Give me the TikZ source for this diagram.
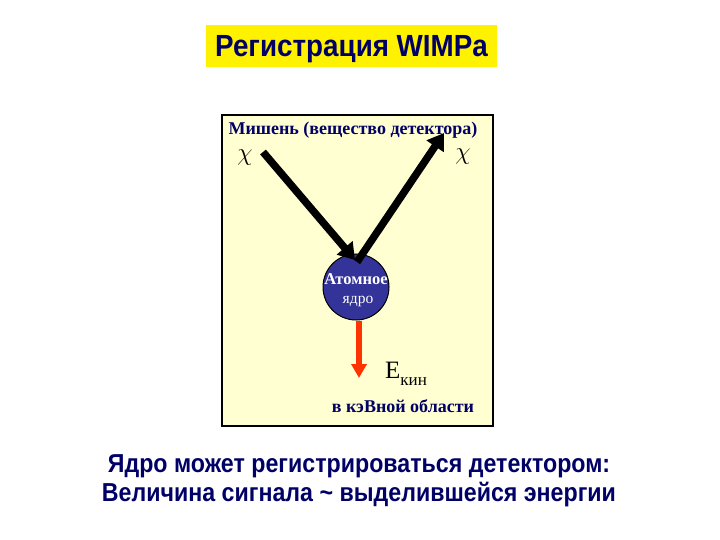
\documentclass[tikz,border=0pt]{standalone}
\usepackage{fontspec}
\setmainfont{Liberation Serif}
\newfontfamily\arialb{Liberation Sans}[BoldFont={Liberation Sans Bold}]
\usetikzlibrary{arrows.meta}
\definecolor{navy}{HTML}{000066}
\definecolor{nucblue}{HTML}{333399}
\definecolor{panelbg}{HTML}{FFFFD2}
\definecolor{redarrow}{HTML}{FF3300}
\newcommand{\vstretch}[2]{\scalebox{1}[#1]{#2}}
\tikzset{
  sanshead/.style={font=\arialb\bfseries\fontsize{27.8pt}{30pt}\selectfont, text=navy},
  bottomtxt/.style={font=\arialb\bfseries\fontsize{23.2pt}{26pt}\selectfont, text=navy, inner sep=0pt},
  blackarrow/.style={line width=7.5pt, -{Triangle[length=16pt,width=20pt]}},
  chi/.style={font=\fontsize{26pt}{28pt}\selectfont, inner sep=0pt},
}
\begin{document}
\begin{tikzpicture}[x=1pt,y=-1pt]
\useasboundingbox[fill=white] (0,0) rectangle (720,540);
% title
\node[fill=yellow, minimum width=291pt, minimum height=42pt, inner sep=0pt] (titlebox) at (351.5,46.5) {};
\node[sanshead, anchor=base, inner sep=0pt] (title) at (351.5,57) {\vstretch{1.1}{Регистрация WIMPa}};
% panel
\node[draw=black, line width=1.2pt, fill=panelbg, minimum width=271pt, minimum height=311pt, inner sep=0pt] (panel) at (357.5,270.5) {};
\node[font=\bfseries\fontsize{18pt}{20pt}\selectfont, text=navy, anchor=base, inner sep=0pt] (target) at (353,135) {Мишень (вещество детектора)};
\node[chi] (chiL) at (245,158) {$\chi$};
\node[chi] (chiR) at (463,157) {$\chi$};
% nucleus
\node[circle, draw=black, line width=1pt, fill=nucblue, minimum width=65pt, minimum height=66pt, inner sep=0pt] (nuc) at (356,287) {};
\node[text=white, font=\bfseries\fontsize{16.5pt}{18pt}\selectfont, anchor=base, inner sep=0pt] (nucA) at (356,284) {Атомное};
\node[text=white, font=\fontsize{15.5pt}{17pt}\selectfont, anchor=base, inner sep=0pt] (nucB) at (358,303) {ядро};
% red arrow
\coordinate (redEnd) at (359,378);
\draw[redarrow, line width=6.5pt, -{Triangle[length=14pt,width=15pt]}] (nuc.south -| redEnd) -- (redEnd);
% black arrows
\coordinate (inStart) at (263,152);
\coordinate (hit) at (355,260);
\coordinate (outStart) at (357,262);
\coordinate (outEnd) at (444,133);
\draw[blackarrow] (inStart) -- (hit);
\draw[blackarrow] (outStart) -- (outEnd);
% E kin
\node[font=\fontsize{25pt}{27pt}\selectfont, anchor=base west, inner sep=0pt] (E) at (385,378) {E\raisebox{-7pt}{\fontsize{17pt}{19pt}\selectfont кин}};
\node[font=\bfseries\fontsize{18pt}{20pt}\selectfont, text=navy, anchor=base, inner sep=0pt] (kev) at (403,412) {в кэВной области};
% bottom text
\node[bottomtxt, anchor=base] (line1) at (359,472) {\vstretch{1.12}{Ядро может регистрироваться детектором:}};
\node[bottomtxt, anchor=base] (line2) at (359,501) {\vstretch{1.12}{Величина сигнала \char`\~{} выделившейся энергии}};
\end{tikzpicture}
\end{document}
